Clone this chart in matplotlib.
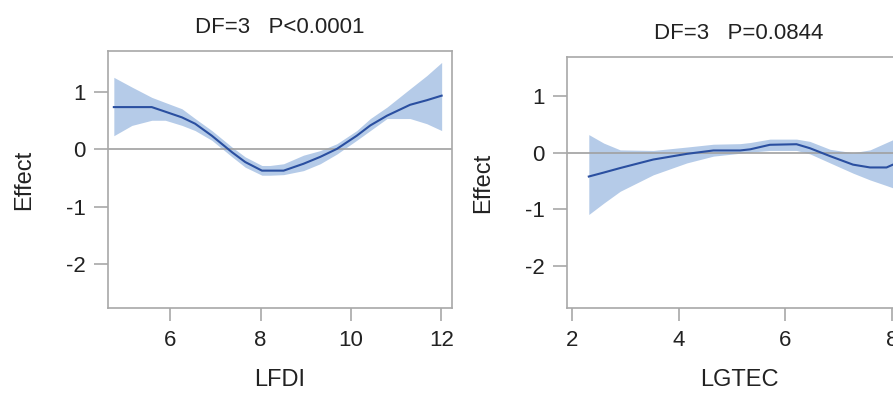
import matplotlib
matplotlib.use('Agg')
import matplotlib.pyplot as plt

plt.rcParams['font.family'] = ['Liberation Sans', 'DejaVu Sans']

# LFDI panel
lfdi_x = [4.75, 5.15, 5.59, 5.89, 6.26, 6.55, 6.92, 7.37, 7.66, 8.03, 8.21, 8.51,
          8.95, 9.32, 9.69, 10.13, 10.43, 10.80, 11.31, 11.68, 12.01]
lfdi_y = [0.74, 0.74, 0.74, 0.66, 0.56, 0.45, 0.24, -0.05, -0.22, -0.37, -0.37, -0.37,
          -0.25, -0.13, 0.01, 0.24, 0.42, 0.59, 0.78, 0.86, 0.94]
lfdi_hi = [1.26, 1.09, 0.91, 0.82, 0.71, 0.54, 0.33, 0.04, -0.13, -0.28, -0.28, -0.25,
           -0.10, -0.02, 0.10, 0.33, 0.54, 0.74, 1.06, 1.29, 1.52]
lfdi_lo = [0.24, 0.42, 0.51, 0.51, 0.42, 0.33, 0.16, -0.13, -0.31, -0.45, -0.45, -0.44,
           -0.37, -0.25, -0.08, 0.16, 0.33, 0.54, 0.54, 0.45, 0.33]

# LGTEC panel
lgtec_x = [2.31, 2.59, 2.90, 3.52, 4.15, 4.65, 5.15, 5.34, 5.71, 6.21, 6.46, 6.84,
           7.27, 7.59, 7.90, 8.02, 8.3]
lgtec_y = [-0.42, -0.35, -0.27, -0.12, -0.02, 0.04, 0.04, 0.06, 0.14, 0.15, 0.08, -0.06,
           -0.21, -0.26, -0.26, -0.21, -0.15]
lgtec_hi = [0.32, 0.17, 0.05, 0.04, 0.10, 0.15, 0.16, 0.18, 0.24, 0.24, 0.20, 0.06,
            0.00, 0.05, 0.18, 0.23, 0.40]
lgtec_lo = [-1.09, -0.89, -0.68, -0.39, -0.18, -0.06, -0.01, 0.01, 0.04, 0.04, -0.02, -0.18,
            -0.36, -0.48, -0.58, -0.62, -0.75]

titles = ['DF=3   P<0.0001', 'DF=3   P=0.0844']
xlabels = ['LFDI', 'LGTEC']

band_c = '#b5cbe8'
line_c = '#2a4fa0'
frame_c = '#a8a8a8'
text_c = '#222222'

fig = plt.figure(figsize=(8.93, 3.96), dpi=100)
ax1 = fig.add_axes([0.1209, 0.2222, 0.3853, 0.649])
ax2 = fig.add_axes([0.6349, 0.2222, 0.3853, 0.634])

panels = [
    (ax1, lfdi_x, lfdi_y, lfdi_lo, lfdi_hi, (4.62, 12.24), (-2.77, 1.72), [6, 8, 10, 12]),
    (ax2, lgtec_x, lgtec_y, lgtec_lo, lgtec_hi, (1.9, 8.36), (-2.74, 1.69), [2, 4, 6, 8]),
]

for i, (ax, x, y, lo, hi, xl, yl, xt) in enumerate(panels):
    ax.fill_between(x, lo, hi, color=band_c, lw=0, zorder=1)
    ax.axhline(0, color='#a0a0a0', lw=1.2, zorder=2)
    ax.plot(x, y, color=line_c, lw=1.5, zorder=3)
    ax.set_xlim(*xl)
    ax.set_ylim(*yl)
    ax.set_xticks(xt)
    ax.set_yticks([-2, -1, 0, 1])
    ax.set_yticklabels(['-2', '-1', '0', '1'])
    for s in ax.spines.values():
        s.set_color(frame_c)
        s.set_linewidth(1.2)
    ax.tick_params(colors=frame_c, labelcolor=text_c, labelsize=16, width=1.2)
    ax.tick_params(axis='x', length=9, pad=6.5)
    ax.tick_params(axis='y', length=10, pad=6)
    ax.set_title(titles[i], fontsize=16, pad=13, color=text_c)
    ax.set_xlabel(xlabels[i], fontsize=17, color=text_c)
    ax.set_ylabel('Effect', fontsize=17, color=text_c)
    h = 257.0 if i == 0 else 251.0
    ax.xaxis.set_label_coords(0.5, -61.0 / h)
    ax.yaxis.set_label_coords(-0.211, 0.5)

fig.savefig('out.png', dpi=100)
